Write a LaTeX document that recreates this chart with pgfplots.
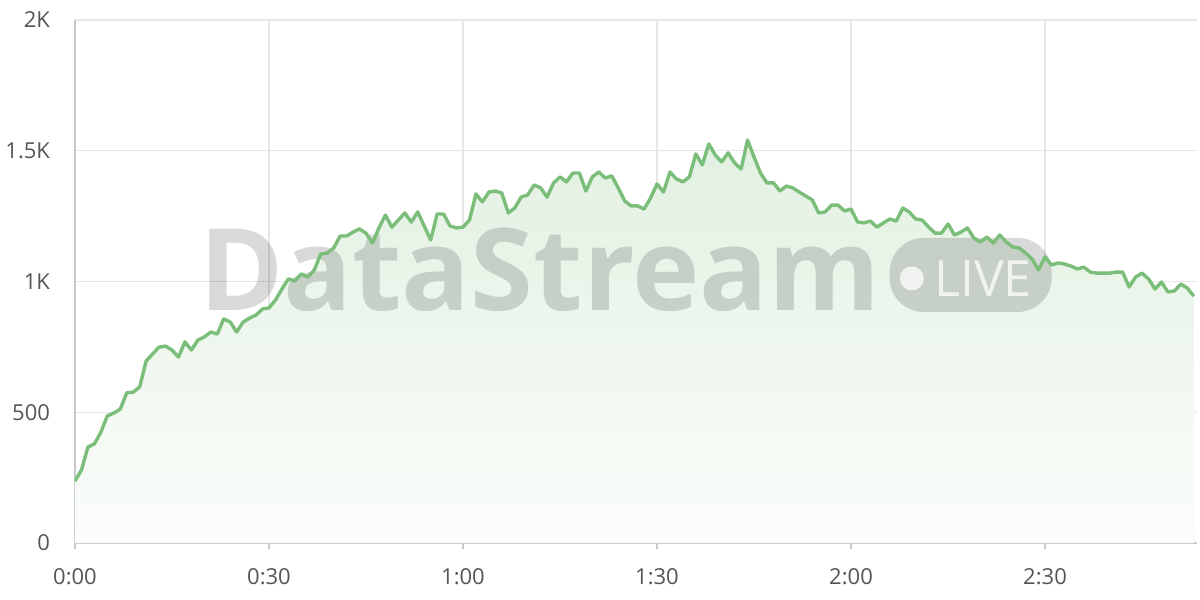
\documentclass[border=0pt]{standalone}
\usepackage{pgfplots}
\usepackage{pgfplotstable}
\pgfplotsset{compat=1.18}
\usepackage{fontspec}
\setmainfont{Open Sans}
\definecolor{lineg}{RGB}{122,190,122}
\definecolor{gridc}{RGB}{230,230,230}
\definecolor{axc}{RGB}{200,200,200}
\definecolor{tickc}{RGB}{85,85,85}
\pgfplotstableread{
t v
0 237
1 279
2 367
3 379
4 424
5 486
6 497
7 512
8 574
9 577
10 597
11 696
12 723
13 749
14 753
15 738
16 711
17 769
18 738
19 776
20 788
21 807
22 799
23 857
24 845
25 807
26 845
27 860
28 872
29 895
30 899
31 929
32 971
33 1010
34 1002
35 1029
36 1017
37 1044
38 1105
39 1109
40 1128
41 1174
42 1174
43 1189
44 1201
45 1185
46 1147
47 1205
48 1254
49 1208
50 1235
51 1262
52 1227
53 1266
54 1212
55 1159
56 1258
57 1258
58 1212
59 1205
60 1208
61 1235
62 1335
63 1304
64 1342
65 1346
66 1338
67 1262
68 1281
69 1323
70 1331
71 1369
72 1358
73 1323
74 1377
75 1400
76 1381
77 1415
78 1415
79 1346
80 1400
81 1419
82 1396
83 1404
84 1358
85 1308
86 1289
87 1289
88 1277
89 1319
90 1373
91 1342
92 1419
93 1392
94 1381
95 1400
96 1488
97 1446
98 1526
99 1484
100 1457
101 1492
102 1453
103 1430
104 1541
105 1476
106 1415
107 1377
108 1377
109 1346
110 1365
111 1358
112 1342
113 1327
114 1312
115 1262
116 1266
117 1292
118 1292
119 1270
120 1277
121 1228
122 1224
123 1231
124 1208
125 1224
126 1239
127 1231
128 1281
129 1266
130 1239
131 1235
132 1208
133 1185
134 1185
135 1220
136 1178
137 1189
138 1205
139 1166
140 1151
141 1170
142 1147
143 1178
144 1151
145 1132
146 1128
147 1109
148 1086
149 1044
150 1094
151 1063
152 1071
153 1067
154 1059
155 1048
156 1055
157 1036
158 1032
159 1032
160 1032
161 1036
162 1036
163 979
164 1017
165 1032
166 1010
167 971
168 998
169 960
170 964
171 990
172 975
173 944
}\datatable
\begin{document}
\begin{tikzpicture}
\begin{axis}[
  at={(0,0)}, anchor=south west,
  scale only axis, width=561pt, height=261.5pt,
  xmin=0, xmax=173.5, ymin=0, ymax=2000,
  axis lines=left, axis line style={-, draw=axc, line width=0.7pt},
  xtick={0,30,60,90,120,150}, xticklabels={0:00,0:30,1:00,1:30,2:00,2:30},
  ytick={0,500,1000,1500,2000}, yticklabels={0,500,1K,1.5K,2K},
  grid=major, major grid style={draw=gridc, line width=0.6pt},
  tick align=outside, major tick length=3pt,
  xtick style={draw=axc, line width=0.6pt},
  ytick style={draw=none},
  ticklabel style={font=\fontsize{11}{13}\selectfont, text=tickc},
  xticklabel style={yshift=-6pt},
  yticklabel style={xshift=-6pt},
]
\addplot[draw=none, top color=lineg!22!white, bottom color=lineg!3!white] table[x=t,y=v]{\datatable} \closedcycle;
\node[anchor=base, font=\fontsize{57}{60}\selectfont\bfseries, text=black, text opacity=0.15] at (axis cs:71.9,891) {DataStream};
\node[fill=black, fill opacity=0.15, rounded corners=17pt, minimum width=81pt, minimum height=37pt, inner sep=0pt] at (axis cs:138.5,1025) {};
\node[anchor=center, font=\fontsize{25}{30}\selectfont, text=white, text opacity=0.75] at (axis cs:140.4,1012) {LIVE};
\fill[white, opacity=0.75] (axis cs:129.4,1012) circle[radius=6pt];
\addplot[lineg, line width=1.7pt, line join=round, mark=none] table[x=t,y=v]{\datatable};
\end{axis}
\pgfresetboundingbox
\path (-37.5pt,-28.5pt) rectangle (562.5pt,271.5pt);
\end{tikzpicture}
\end{document}
